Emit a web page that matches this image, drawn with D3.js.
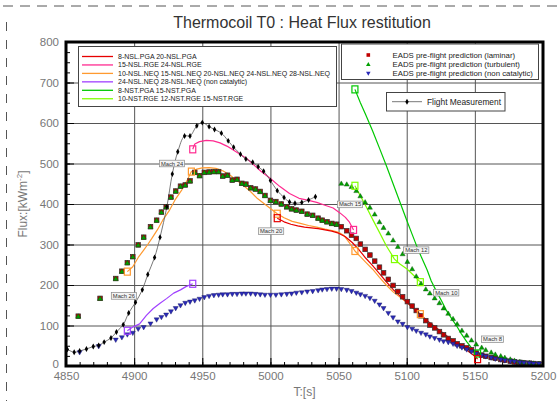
<!DOCTYPE html>
<html><head><meta charset="utf-8">
<script src="https://cdn.jsdelivr.net/npm/d3@7"></script>
<style>body{margin:0;background:#fff}svg{display:block;font-family:"Liberation Sans",Arial,sans-serif}</style>
</head><body><svg id="c" width="560" height="401"></svg>
<script>
// ---------- DATA ----------
const xTicks = [4850,4900,4950,5000,5050,5100,5150,5200];
const yTicks = [0,100,200,300,400,500,600,700,800];

const flightT = [4851,4856,4860,4865,4870,4874,4878,4883,4887,4892,4896,4901,4906,4910,4915,4919,4924,4928,4932,4937,4941,4946,4950,4955,4959,4964,4969,4973,4978,4982,4987,4991,4995,5000,5005,5010,5014,5018,5023,5028,5033];
const flightV = [41,34,37,42,48,51,59,69,84,102,131,157,188,226,268,318,393,474,529,568,568,593,601,591,584,575,556,540,523,511,503,492,481,458,433,416,405,402,404,410,418];

// EADS: laminar and turbulent coincide before transition
const eadsCommonT = [4859,4875,4886.5,4891,4895,4899,4903,4907,4912,4916.5,4920,4923.5,4927,4930.5,4934,4937.5,4941,4944.5,4948,4951.5,4955,4958.5,4962,4965,4968.5,4972,4975.5,4979,4982,4985.5,4989,4992.5,4996,5000,5004,5008,5012,5015.5,5019,5023,5027,5031,5035,5038,5041.5,5045,5048.5];
const eadsCommonV = [123,167,216,234,255,270,299,318,344,360,380,393,417,432,444,447,457,478,470,478,479,480,480,469,471,459,461,451,449,440,437,431,421,409,406,400,393,388,385,382,375,372,365,360,356,352,350];

const tailT = [5052,5056,5059.5,5063,5066,5069.5,5073,5076.5,5080,5083,5086.5,5090,5093.5,5097,5100.5,5104,5107,5110.5,5114,5117,5120.5,5124,5127,5130.5,5134,5137,5140.5,5144,5147.5,5151,5155,5158,5162,5165,5169,5172,5176,5179,5183,5186,5190,5193,5197];
const laminarTailV = [344,334,323,315,301,288,274,259,244,230,214,199,184,171,159,148,137,124,112,101,94,85,77,68,62,55,50,45,40,32,27,24,21,19,16,14,12,10,9,8,7,6,5];
const turbulentTailV = [451,449,443,433,420,405,392,375,356,342,328,311,295,277,258,240,222,204,190,180,168,156,143,130,117,104,88,76,64,54,46,40,34,29,25,21,17,14,11,9,8,7,6];

const nonCatT = [4860,4874,4886.5,4891,4895,4899,4903,4907,4912,4916.5,4920,4923.5,4927,4930.5,4934,4937.5,4941,4944.5,4948,4951.5,4955,4958.5,4962,4965,4968.5,4972,4975.5,4979,4982,4985.5,4989,4992.5,4996,5000,5004,5008,5012,5015.5,5019,5023,5027,5031,5035,5038,5041.5,5045,5048.5,5052,5056,5059.5,5063,5066,5069.5,5073,5076.5,5080,5083,5086.5,5090,5093.5,5097,5100.5,5104,5107,5110.5,5114,5117,5120.5,5124,5127,5130.5,5134,5137,5140.5,5144,5147.5,5151,5155,5158,5162,5165,5169,5172,5176,5179,5183,5186,5190,5193,5197];
const nonCatV = [33,48,64,70,77,81,91,95,104,114,120,126,134,142,149,155,158,161,165,169,172,174,175,176,176,177,177,178,178,178,177,176,175,175,175,176,177,178,180,181,183,184,186,188,189,190,190,189,187,184,180,176,172,167,160,151,142,130,119,109,103,95,91,86,81,77,72,68,64,60,58,54,49,45,40,35,30,26,23,20,17,15,13,11,10,8,7,6,5,5];

const redLine = [[5005,365],[5010,356],[5015,350],[5020,346],[5025,343],[5030,341],[5035,339],[5040,336],[5045,333],[5050,328],[5055,319],[5060,305],[5065,287],[5070,266],[5075,248],[5080,228],[5085,208],[5090,189],[5095,173],[5100,158],[5105,142],[5110,127],[5115,112],[5120,99],[5125,86],[5130,73],[5135,61],[5140,49],[5145,37],[5150,24],[5152,17]];
const pinkLine = [[4943,535],[4944.5,548],[4948,554],[4953,557],[4958,556],[4963,551],[4968,543],[4973,533],[4978,522],[4983,511],[4988,496],[4993,481],[5000,463],[5007,443],[5014,426],[5021,414],[5028,409],[5034,404],[5040,397],[5046,390],[5051,378],[5055,367],[5058,355],[5061,336]];
const orangeLine = [[4895,233],[4899,245],[4903,268],[4907,286],[4910,300],[4913,315],[4917,336],[4921,360],[4926,385],[4930,410],[4935,435],[4939,459],[4942,480],[4946,486],[4950,489],[4955,490],[4960,488],[4965,482],[4970,472],[4975,459],[4980,446],[4985,432],[4990,415],[4995,402],[5000,389],[5005,376],[5010,366],[5016,357],[5022,352],[5028,347],[5034,343],[5040,338],[5046,334],[5050,330],[5054,322],[5058,304],[5062,284],[5066,270],[5070,256],[5075,239],[5080,219],[5085,200],[5090,183],[5095,170],[5100,157],[5105,143],[5110,128]];
const purpleLine = [[4895,87],[4899,96],[4904,104],[4909,125],[4914,142],[4919,155],[4924,167],[4929,180],[4934,188],[4938,196],[4943,203]];
const greenLine = [[5062,683],[5066,650],[5070,620],[5075,580],[5080,538],[5085,495],[5090,450],[5095,405],[5100,360],[5104,325],[5107,299],[5111,267],[5115,237],[5118,210],[5122,183],[5126,158],[5129,138],[5133,117],[5137,97],[5140,80],[5144,60],[5147,47],[5150,35],[5152,31]];
const lightGreenLine = [[5062,445],[5066,420],[5070,395],[5075,362],[5080,330],[5085,297],[5091,264],[5095,252],[5100,240],[5105,224],[5110,207]];

const redBoxes = [5005,5152];
const orangeBoxes = [4895,4942,5005,5062,5110];
const pinkBoxes = [4943,5061];
const purpleBoxes = [4895,4943];
const greenBoxes = [5062,5152];
const lightGreenBoxes = [5062,5091,5110];

const machLabels = ["Mach 26","Mach 24","Mach 20","Mach 15","Mach 12","Mach 10","Mach 8"];
const machT = [4892.5,4927.8,5000.5,5058.4,5107,5129,5163];
const machV = [173,500,333,399,286,181,66];

const lineNames = ["8-NSL.PGA 20-NSL.PGA","15-NSL.RGE 24-NSL.RGE","10-NSL.NEQ 15-NSL.NEQ 20-NSL.NEQ 24-NSL.NEQ 28-NSL.NEQ","24-NSL.NEQ 28-NSL.NEQ (non catalytic)","8-NST.PGA 15-NST.PGA","10-NST.RGE 12-NST.RGE 15-NST.RGE"];
const lineColors = ["#e60000","#ff2a90","#ff9a30","#a040ff","#00c800","#80ff00"];
const eadsNames = ["EADS pre-flight prediction (laminar)","EADS pre-flight prediction (turbulent)","EADS pre-flight prediction (non catalytic)"];
const flightName = "Flight Measurement";

// ---------- DRAW ----------
const svg = d3.select("#c");
const x = d3.scaleLinear().domain([4850,5200]).range([66,543]);
const y = d3.scaleLinear().domain([0,800]).range([366,42]);
const X0=x(4850), X1=x(5200), Y0=y(0), Y1=y(800);

// dashed page border
svg.append("line").attr("x1",3).attr("x2",558).attr("y1",6).attr("y2",6)
  .attr("stroke","#555").attr("stroke-width",1).attr("stroke-dasharray","10,7");
svg.append("line").attr("x1",6.5).attr("x2",6.5).attr("y1",22).attr("y2",401)
  .attr("stroke","#555").attr("stroke-width",1).attr("stroke-dasharray","9,9");

// title
svg.append("text").attr("x",302).attr("y",28).attr("text-anchor","middle")
  .attr("font-size",16).attr("fill","#333").text("Thermocoil T0 : Heat Flux restitution");

// gridlines
svg.append("g").attr("transform",`translate(0,${Y0})`)
  .call(d3.axisBottom(x).tickValues(xTicks.slice(1,-1)).tickSize(-(Y0-Y1)).tickFormat(""))
  .call(g=>g.select(".domain").remove())
  .selectAll("line").attr("stroke","#555").attr("stroke-width",1);
svg.append("g").attr("transform",`translate(${X0},0)`)
  .call(d3.axisLeft(y).tickValues(yTicks.slice(1,-1)).tickSize(-(X1-X0)).tickFormat(""))
  .call(g=>g.select(".domain").remove())
  .selectAll("line").attr("stroke","#555").attr("stroke-width",1);

// minor / major ticks
function ticks(axis, tr){
  svg.append("g").attr("transform",tr).call(axis)
    .call(g=>g.select(".domain").remove())
    .selectAll("line").attr("stroke","#000").attr("stroke-width",1);
}
ticks(d3.axisBottom(x).tickValues(d3.range(4850,5201,10)).tickSize(-4).tickFormat(""),`translate(0,${Y0})`);
ticks(d3.axisBottom(x).tickValues(xTicks).tickSize(-8).tickFormat(""),`translate(0,${Y0})`);
ticks(d3.axisLeft(y).tickValues(d3.range(0,801,25)).tickSize(-4).tickFormat(""),`translate(${X0},0)`);
ticks(d3.axisLeft(y).tickValues(yTicks).tickSize(-8).tickFormat(""),`translate(${X0},0)`);

// tick labels
const xl = svg.append("g").attr("transform",`translate(0,${Y0})`)
  .call(d3.axisBottom(x).tickValues(xTicks).tickSize(0).tickPadding(6).tickFormat(d3.format("d")));
xl.select(".domain").remove();
xl.selectAll("text").attr("font-size",11.5).attr("fill","#777").attr("font-family","Liberation Sans");
const yl = svg.append("g").attr("transform",`translate(${X0},0)`)
  .call(d3.axisLeft(y).tickValues(yTicks).tickSize(0).tickPadding(7).tickFormat(d3.format("d")));
yl.select(".domain").remove();
yl.selectAll("text").attr("font-size",11.5).attr("fill","#777").attr("font-family","Liberation Sans");
yl.selectAll("text").filter(d=>d===0).attr("dy","0.1em");

// axis titles
svg.append("text").attr("x",(X0+X1)/2).attr("y",396).attr("text-anchor","middle")
  .attr("font-size",12).attr("fill","#777").text("T:[s]");
const yt = svg.append("text").attr("transform",`translate(27,${(Y0+Y1)/2}) rotate(-90)`)
  .attr("text-anchor","middle").attr("font-size",12).attr("fill","#777");
yt.append("tspan").text("Flux:[kWm");
yt.append("tspan").attr("font-size",8).attr("dy",-5).text("-2");
yt.append("tspan").attr("dy",5).text("]");

// clip
svg.append("clipPath").attr("id","clip").append("rect")
  .attr("x",X0).attr("y",Y1).attr("width",X1-X0).attr("height",Y0-Y1);
const plot = svg.append("g").attr("clip-path","url(#clip)");

const line = d3.line().x(d=>x(d[0])).y(d=>y(d[1]));

// prediction lines
const lineSets = [redLine,pinkLine,orangeLine,purpleLine,greenLine,lightGreenLine];
const boxSets = [redBoxes,pinkBoxes,orangeBoxes,purpleBoxes,greenBoxes,lightGreenBoxes];
[4,5,3,1,2,0].forEach(i=>{
  plot.append("path").datum(lineSets[i]).attr("d",line).attr("fill","none")
    .attr("stroke",lineColors[i]).attr("stroke-width",1.2).attr("stroke-linejoin","round");
});

// flight measurement
const flight = flightT.map((t,i)=>[t,flightV[i]]);
plot.append("path").datum(flight).attr("d",d3.line().x(d=>x(d[0])).y(d=>y(d[1])).curve(d3.curveCatmullRom))
  .attr("fill","none").attr("stroke","#555").attr("stroke-width",0.8);

// EADS markers
const laminar = eadsCommonT.map((t,i)=>[t,eadsCommonV[i]]).concat(tailT.map((t,i)=>[t,laminarTailV[i]]));
const turbulent = eadsCommonT.map((t,i)=>[t,eadsCommonV[i]]).concat(tailT.map((t,i)=>[t,turbulentTailV[i]]));
const nonCat = nonCatT.map((t,i)=>[t,nonCatV[i]]);

plot.selectAll(".lam").data(laminar).enter().append("rect")
  .attr("x",d=>x(d[0])-2.3).attr("y",d=>y(d[1])-2.3).attr("width",4.6).attr("height",4.6)
  .attr("fill","#c00000").attr("stroke","#333").attr("stroke-width",0.7);
const triUp = d3.symbol().type(d3.symbolTriangle).size(11);
plot.selectAll(".tur").data(turbulent).enter().append("path")
  .attr("d",triUp).attr("transform",d=>`translate(${x(d[0])},${y(d[1])+0.5})`)
  .attr("fill","#00a000").attr("stroke","#0b4d0b").attr("stroke-width",0.4);
plot.selectAll(".nc").data(nonCat).enter().append("path")
  .attr("d",triUp).attr("transform",d=>`translate(${x(d[0])},${y(d[1])-0.5}) rotate(180)`)
  .attr("fill","#2a2ab8").attr("stroke","#10105a").attr("stroke-width",0.4);

const diamond = d3.symbol().type(d3.symbolDiamond).size(10);
plot.selectAll(".fl").data(flight).enter().append("path")
  .attr("d",diamond).attr("transform",d=>`translate(${x(d[0])},${y(d[1])})`).attr("fill","#000");

// hollow boxes on lines
[4,5,3,1,2,0].forEach(i=>{
  const pts = boxSets[i].map(t=>lineSets[i].find(d=>d[0]===t));
  plot.selectAll(null).data(pts).enter().append("rect")
    .attr("x",d=>x(d[0])-3).attr("y",d=>y(d[1])-3.5).attr("width",6).attr("height",7)
    .attr("fill","none").attr("stroke",lineColors[i]).attr("stroke-width",1.2);
});

// Mach labels
machLabels.forEach((m,i)=>{
  const g = svg.append("g").attr("transform",`translate(${x(machT[i])},${y(machV[i])})`);
  const r = g.append("rect").attr("fill","#f4f4f4").attr("stroke","#888").attr("stroke-width",0.7);
  const t = g.append("text").attr("text-anchor","middle").attr("dy","0.35em")
    .attr("font-size",5.8).attr("fill","#333").text(m);
  const w = t.node().getComputedTextLength()+3;
  r.attr("x",-w/2).attr("y",-3.3).attr("width",w).attr("height",6.6);
});

// frame
svg.append("rect").attr("x",X0).attr("y",Y1).attr("width",X1-X0).attr("height",Y0-Y1)
  .attr("fill","none").attr("stroke","#000").attr("stroke-width",3);

// legend 1
const L1 = svg.append("g");
L1.append("rect").attr("x",78.5).attr("y",46.5).attr("width",258).attr("height",60)
  .attr("fill","#fff").attr("stroke","#444").attr("stroke-width",1);
lineNames.forEach((n,i)=>{
  const yy = 56.5 + i*8.45;
  L1.append("line").attr("x1",82).attr("x2",113).attr("y1",yy).attr("y2",yy)
    .attr("stroke",lineColors[i]).attr("stroke-width",1.3);
  L1.append("text").attr("x",118).attr("y",yy).attr("dy","0.35em").attr("font-size",7)
    .attr("fill","#222").text(n);
});

// legend 2
const L2 = svg.append("g");
L2.append("rect").attr("x",341.5).attr("y",44).attr("width",197).attr("height",35.5)
  .attr("fill","#fff").attr("stroke","#444").attr("stroke-width",1);
const legY = [55,64.2,73.4];
L2.append("rect").attr("x",366.5).attr("y",legY[0]-1.8).attr("width",3.6).attr("height",3.6).attr("fill","#c00000");
L2.append("path").attr("d",d3.symbol().type(d3.symbolTriangle).size(9)).attr("transform",`translate(368.3,${legY[1]+0.4})`).attr("fill","#00a000");
L2.append("path").attr("d",d3.symbol().type(d3.symbolTriangle).size(9)).attr("transform",`translate(368.3,${legY[2]-0.4}) rotate(180)`).attr("fill","#2a2ab8");
eadsNames.forEach((n,i)=>{
  L2.append("text").attr("x",392.5).attr("y",legY[i]).attr("dy","0.35em").attr("font-size",7.8)
    .attr("fill","#222").text(n);
});

// legend 3
const L3 = svg.append("g");
L3.append("rect").attr("x",386.5).attr("y",92.5).attr("width",118.5).attr("height",18.5)
  .attr("fill","#fff").attr("stroke","#444").attr("stroke-width",1);
L3.append("line").attr("x1",392).attr("x2",422).attr("y1",101.7).attr("y2",101.7).attr("stroke","#555").attr("stroke-width",0.8);
L3.append("path").attr("d",diamond).attr("transform","translate(407,101.7)").attr("fill","#000");
L3.append("text").attr("x",427).attr("y",101.7).attr("dy","0.35em").attr("font-size",8.4)
  .attr("fill","#222").text(flightName);
</script></body></html>
